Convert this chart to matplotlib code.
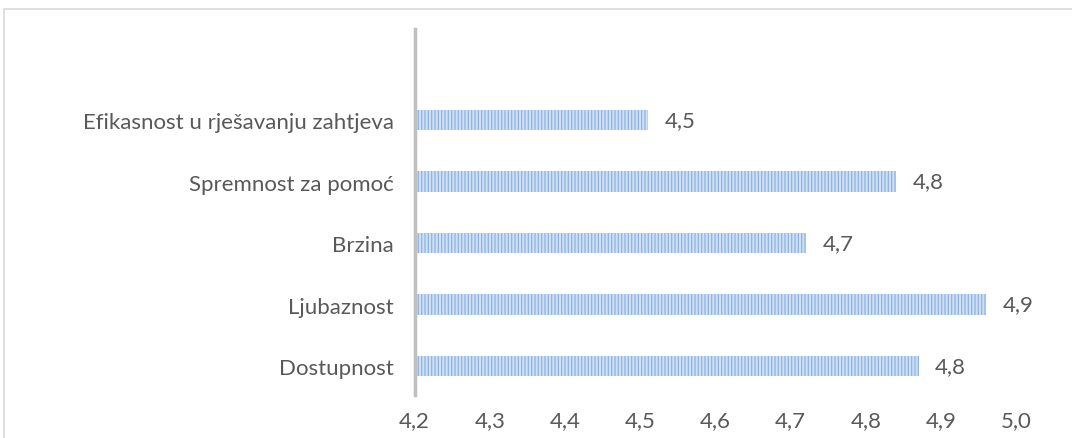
import matplotlib
matplotlib.use("Agg")
import matplotlib.pyplot as plt
from matplotlib.patches import Rectangle

# data (bottom to top)
categories = ["Dostupnost", "Ljubaznost", "Brzina", "Spremnost za pomoć",
              "Efikasnost u rješavanju zahtjeva"]
values = [4.87, 4.96, 4.72, 4.84, 4.51]
value_labels = ["4,8", "4,9", "4,7", "4,8", "4,5"]
x_ticks = [4.2, 4.3, 4.4, 4.5, 4.6, 4.7, 4.8, 4.9, 5.0]

plt.rcParams['font.family'] = ['Lato', 'DejaVu Sans']
plt.rcParams['hatch.linewidth'] = 0.9
text_color = '#595959'
fs = 16

fig = plt.figure(figsize=(10.72, 4.39), dpi=100)
# outer chart frame
fig.patches.append(Rectangle((3.5 / 1072, -0.1), 1.2, 1 - 9.5 / 439 + 0.1,
                             transform=fig.transFigure, fill=False,
                             edgecolor='#d9d9d9', linewidth=1.2))

ax = fig.add_axes([414.5 / 1072, 1 - 396 / 439, (1016.5 - 414.5) / 1072, (396 - 30) / 439])

y = list(range(len(categories)))
# hatch density: 6 lines per inch per '|' -> ~3px stripes
ax.barh(y, [v - 4.2 for v in values], left=4.2, height=0.33,
        color='#cfe0f4', edgecolor='#8fb4e3', hatch='|' * 5, linewidth=0)

for yi, v, lab in zip(y, values, value_labels):
    ax.text(v + 0.022, yi, lab, va='center', ha='left', fontsize=fs, color=text_color)

ax.set_xlim(4.2, 5.0)
ax.set_ylim(-0.47, 5.48)
ax.set_xticks(x_ticks)
ax.set_xticklabels([f"{t:.1f}".replace('.', ',') for t in x_ticks])
ax.set_yticks(y)
ax.set_yticklabels(categories)
ax.tick_params(axis='both', length=0, labelsize=fs, colors=text_color)
ax.tick_params(axis='x', pad=11)
ax.tick_params(axis='y', pad=15)

for s in ['top', 'right', 'bottom']:
    ax.spines[s].set_visible(False)
ax.spines['left'].set_color('#bfbfbf')
ax.spines['left'].set_linewidth(2.5)

fig.savefig('out.png', dpi=100)
